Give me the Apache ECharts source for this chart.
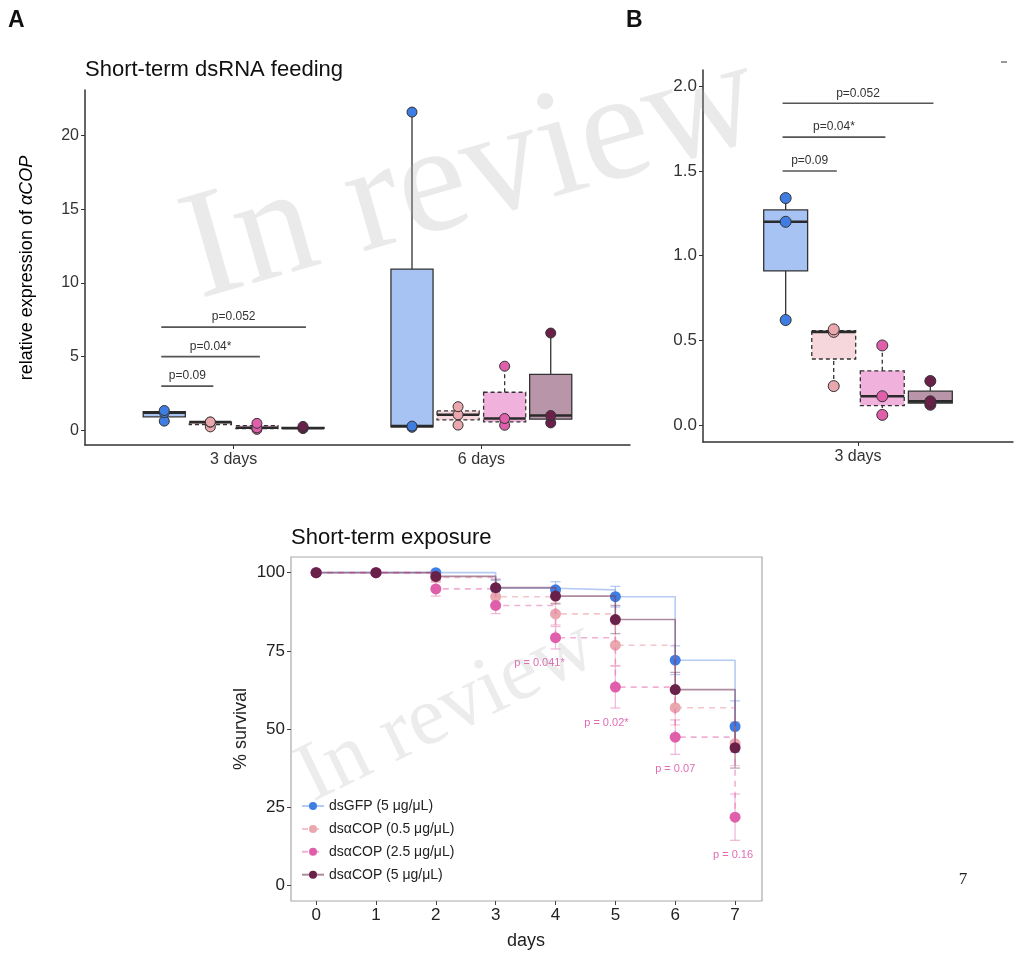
<!DOCTYPE html>
<html>
<head>
<meta charset="utf-8">
<script src="https://cdn.jsdelivr.net/npm/echarts@6/dist/echarts.min.js"></script>
<style>
html,body{margin:0;padding:0;background:#fff}
#chart{width:1015px;height:953px}
</style>
</head>
<body>
<div id="chart"></div>
<script>
// ---- data ----
const groupNames = ['dsGFP (5 μg/μL)', 'dsαCOP (0.5 μg/μL)', 'dsαCOP (2.5 μg/μL)', 'dsαCOP (5 μg/μL)'];
const expCategories = ['3 days', '6 days'];
const zoomCategories = ['3 days'];

// replicate values of relative αCOP expression, one list per time point
const gfpPoints   = [[0.62, 1.20, 1.34], [0.20, 0.28, 21.6]];
const cop05Points = [[0.23, 0.55, 0.565], [0.35, 1.05, 1.60]];
const cop25Points = [[0.06, 0.17, 0.47], [0.34, 0.80, 4.35]];
const cop5Points  = [[0.12, 0.14, 0.26], [0.50, 1.00, 6.60]];

// box statistics per time point: [lower whisker, Q1, median, Q3, upper whisker]
const gfpBox   = [[0.62, 0.91, 1.20, 1.27, 1.34], [0.20, 0.24, 0.28, 10.94, 21.6]];
const cop05Box = [[0.23, 0.39, 0.55, 0.557, 0.565], [0.35, 0.70, 1.05, 1.32, 1.60]];
const cop25Box = [[0.06, 0.115, 0.17, 0.32, 0.47], [0.34, 0.57, 0.80, 2.58, 4.35]];
const cop5Box  = [[0.12, 0.13, 0.14, 0.20, 0.26], [0.50, 0.75, 1.00, 3.80, 6.60]];

// pairwise comparisons against dsGFP at 3 days
const sigLabels  = ['p=0.09', 'p=0.04*', 'p=0.052'];
const sigTargets = [1, 2, 3];
const sigLevelsA = [3, 5, 7];
const sigLevelsB = [1.5, 1.7, 1.9];

// survival (%) by day, with error half-widths
const days = [0, 1, 2, 3, 4, 5, 6, 7];
const survGFP   = [100, 100, 100, 95.0, 94.5, 92.3, 72.0, 50.8];
const survCop05 = [100, 100, 98.5, 92.3, 86.8, 76.8, 56.8, 45.3];
const survCop25 = [100, 100, 94.8, 89.5, 79.2, 63.4, 47.4, 21.8];
const survCop5  = [100, 100, 98.8, 95.2, 92.5, 85.0, 62.6, 44.0];
const errGFP   = [0, 0, 0, 2.5, 2.6, 3.3, 4.6, 8.2];
const errCop05 = [0, 0, 1.5, 2.5, 3.5, 6.5, 5.5, 7.0];
const errCop25 = [0, 0, 2.3, 2.6, 3.6, 6.7, 5.5, 7.4];
const errCop5  = [0, 0, 1.2, 2.7, 2.5, 4.5, 5.5, 6.5];

const survPLabels = ['p = 0.041*', 'p = 0.02*', 'p = 0.07', 'p = 0.16'];
const survPDays   = [4, 5, 6, 7];

// ---- styling ----
const FONT = "'Liberation Sans', Arial, sans-serif";
const POINT_COLORS = ['#3f7de3', '#eaa7ae', '#e05fab', '#6a2149'];
const FILL_COLORS  = ['#a6c3f4', '#f6d7dc', '#f0b2dc', '#b995a9'];
const SURV_LINE    = ['rgba(120,160,235,0.55)', 'rgba(235,160,170,0.6)', 'rgba(230,110,180,0.55)', 'rgba(120,60,95,0.6)'];
const SURV_ERR     = ['rgba(120,160,235,0.55)', 'rgba(235,165,175,0.55)', 'rgba(230,120,185,0.5)', 'rgba(120,60,95,0.45)'];
const DASHED = [false, true, true, false];
const DODGE = [-0.28, -0.094, 0.094, 0.28];
const BOX_W = 0.17;
const P_LABEL_SHIFT = [-16, -9, 0, -2];

const allPoints = [gfpPoints, cop05Points, cop25Points, cop5Points];
const allBoxes = [gfpBox, cop05Box, cop25Box, cop5Box];
const allSurv = [survGFP, survCop05, survCop25, survCop5];
const allErr = [errGFP, errCop05, errCop25, errCop5];

function boxSeries(gi, axis, boxes) {
  return {
    type: 'custom', xAxisIndex: axis, yAxisIndex: axis, z: 2, silent: true,
    data: boxes.map((b, ci) => [ci + 1 + DODGE[gi]].concat(b)),
    encode: { x: 0, y: [1, 2, 3, 4, 5] },
    renderItem(params, api) {
      const x = api.value(0);
      const v = [1, 2, 3, 4, 5].map(i => api.value(i));
      const p = v.map(val => api.coord([x, val]));
      const cx = p[0][0];
      const w = api.size([BOX_W, 0])[0];
      const dash = DASHED[gi] ? [4, 3] : null;
      const stroke = '#333';
      return {
        type: 'group',
        children: [
          { type: 'line', shape: { x1: cx, y1: p[0][1], x2: cx, y2: p[1][1] }, style: { stroke, lineWidth: 1.3, lineDash: dash } },
          { type: 'line', shape: { x1: cx, y1: p[3][1], x2: cx, y2: p[4][1] }, style: { stroke, lineWidth: 1.3, lineDash: dash } },
          { type: 'rect', shape: { x: cx - w / 2, y: p[3][1], width: w, height: Math.max(p[1][1] - p[3][1], 1) },
            style: { fill: FILL_COLORS[gi], stroke, lineWidth: 1.3, lineDash: dash } },
          { type: 'line', shape: { x1: cx - w / 2, y1: p[2][1], x2: cx + w / 2, y2: p[2][1] }, style: { stroke: '#2a2a2a', lineWidth: 2.6 } }
        ]
      };
    }
  };
}

function pointSeries(gi, axis, points, size) {
  const data = [];
  points.forEach((list, ci) => list.forEach(val => data.push([ci + 1 + DODGE[gi], val])));
  return {
    type: 'scatter', xAxisIndex: axis, yAxisIndex: axis, z: 3, silent: true,
    symbolSize: size, data,
    itemStyle: { color: POINT_COLORS[gi], borderColor: '#333', borderWidth: 1, opacity: 1 }
  };
}

function sigSeries(axis, levels) {
  return {
    type: 'custom', xAxisIndex: axis, yAxisIndex: axis, z: 4, silent: true,
    data: levels.map((lv, i) => [1 + DODGE[0] - 0.012, 1 + DODGE[sigTargets[i]] + 0.012, lv]),
    encode: { x: [0, 1], y: 2 },
    renderItem(params, api) {
      const a = api.coord([api.value(0), api.value(2)]);
      const b = api.coord([api.value(1), api.value(2)]);
      return {
        type: 'group',
        children: [
          { type: 'line', shape: { x1: a[0], y1: a[1], x2: b[0], y2: b[1] }, style: { stroke: '#555', lineWidth: 1.6 } },
          { type: 'text', style: { text: sigLabels[params.dataIndex], x: (a[0] + b[0]) / 2, y: a[1] - 4,
            align: 'center', verticalAlign: 'bottom', textAlign: 'center', textVerticalAlign: 'bottom',
            font: '12px ' + FONT, fill: '#333' } }
        ]
      };
    }
  };
}

function errSeries(gi) {
  const data = [];
  days.forEach((d, i) => {
    if (allErr[gi][i] > 0) data.push([d, allSurv[gi][i] - allErr[gi][i], allSurv[gi][i] + allErr[gi][i]]);
  });
  return {
    type: 'custom', xAxisIndex: 2, yAxisIndex: 2, z: 2, silent: true, data,
    encode: { x: 0, y: [1, 2] },
    renderItem(params, api) {
      const lo = api.coord([api.value(0), api.value(1)]);
      const hi = api.coord([api.value(0), api.value(2)]);
      const st = { stroke: SURV_ERR[gi], lineWidth: 1.3 };
      return {
        type: 'group',
        children: [
          { type: 'line', shape: { x1: lo[0], y1: lo[1], x2: hi[0], y2: hi[1] }, style: st },
          { type: 'line', shape: { x1: lo[0] - 5, y1: lo[1], x2: lo[0] + 5, y2: lo[1] }, style: st },
          { type: 'line', shape: { x1: hi[0] - 5, y1: hi[1], x2: hi[0] + 5, y2: hi[1] }, style: st }
        ]
      };
    }
  };
}

function survSeries(gi) {
  return {
    name: groupNames[gi], type: 'line', xAxisIndex: 2, yAxisIndex: 2, z: 3 + gi * 0.1, silent: true,
    step: 'end', symbol: 'circle', symbolSize: 11, showSymbol: true,
    data: days.map((d, i) => [d, allSurv[gi][i]]),
    lineStyle: { color: SURV_LINE[gi], width: 1.6, type: DASHED[gi] ? [6, 5] : 'solid' },
    itemStyle: { color: POINT_COLORS[gi], opacity: 1 }
  };
}

const pLabelSeries = {
  type: 'custom', xAxisIndex: 2, yAxisIndex: 2, z: 5, silent: true,
  data: survPDays.map(d => { const i = days.indexOf(d); return [d, survCop25[i] - errCop25[i]]; }),
  encode: { x: 0, y: 1 },
  renderItem(params, api) {
    const p = api.coord([api.value(0), api.value(1)]);
    return { type: 'text', style: { text: survPLabels[params.dataIndex], x: p[0] + P_LABEL_SHIFT[params.dataIndex], y: p[1] + 9,
      align: 'center', verticalAlign: 'top', textAlign: 'center', textVerticalAlign: 'top',
      font: '11px ' + FONT, fill: '#e06cb4' } };
  }
};

const axisLineStyle = { color: '#333', width: 1.5 };
function catXAxis(grid, max, cats) {
  const vals = cats.map((c, i) => i + 1);
  return {
    type: 'value', gridIndex: grid, min: 0.4, max,
    axisLine: { show: true, onZero: false, lineStyle: axisLineStyle },
    axisTick: { show: true, customValues: vals, length: 4, lineStyle: { color: '#333' } },
    axisLabel: { customValues: vals, formatter: v => cats[Math.round(v) - 1], fontSize: 16, color: '#333', margin: 7, fontFamily: FONT },
    splitLine: { show: false }
  };
}

const option = {
  animation: false,
  backgroundColor: '#fff',
  grid: [
    { left: 85, top: 90, width: 545, height: 355 },
    { left: 703, top: 70, width: 310, height: 372 },
    { left: 291, top: 557, width: 471, height: 344, show: true, borderColor: '#aaa', borderWidth: 1.2 }
  ],
  xAxis: [
    catXAxis(0, 2.6, expCategories),
    catXAxis(1, 1.6, zoomCategories),
    {
      type: 'value', gridIndex: 2, min: -0.42, max: 7.45,
      axisLine: { show: false, onZero: false },
      axisTick: { show: true, customValues: days, length: 4, lineStyle: { color: '#444' } },
      axisLabel: { customValues: days, fontSize: 17, color: '#222', margin: 6, fontFamily: FONT },
      splitLine: { show: false }
    }
  ],
  yAxis: [
    {
      type: 'value', gridIndex: 0, min: -1, max: 23.1,
      axisLine: { show: true, onZero: false, lineStyle: axisLineStyle },
      axisTick: { show: true, customValues: [0, 5, 10, 15, 20], length: 4, lineStyle: { color: '#333' } },
      axisLabel: { customValues: [0, 5, 10, 15, 20], fontSize: 16, color: '#333', margin: 6, fontFamily: FONT },
      splitLine: { show: false }
    },
    {
      type: 'value', gridIndex: 1, min: -0.1, max: 2.096,
      axisLine: { show: true, onZero: false, lineStyle: axisLineStyle },
      axisTick: { show: true, customValues: [0, 0.5, 1, 1.5, 2], length: 4, lineStyle: { color: '#333' } },
      axisLabel: { customValues: [0, 0.5, 1, 1.5, 2], formatter: v => v.toFixed(1), fontSize: 17, color: '#333', margin: 6, fontFamily: FONT },
      splitLine: { show: false }
    },
    {
      type: 'value', gridIndex: 2, min: -5, max: 105,
      axisLine: { show: false, onZero: false },
      axisTick: { show: true, customValues: [0, 25, 50, 75, 100], length: 4, lineStyle: { color: '#444' } },
      axisLabel: { customValues: [0, 25, 50, 75, 100], fontSize: 17, color: '#222', margin: 6, fontFamily: FONT },
      splitLine: { show: false }
    }
  ],
  legend: {
    data: groupNames, orient: 'vertical', left: 296, top: 794,
    itemWidth: 22, itemHeight: 10, itemGap: 8.9, selectedMode: false,
    textStyle: { fontSize: 14, color: '#222', fontFamily: FONT }
  },
  series: [].concat(
    [0, 1, 2, 3].map(gi => boxSeries(gi, 0, allBoxes[gi])),
    [0, 1, 2, 3].map(gi => pointSeries(gi, 0, allPoints[gi], 10)),
    [sigSeries(0, sigLevelsA)],
    [0, 1, 2, 3].map(gi => boxSeries(gi, 1, [allBoxes[gi][0]])),
    [0, 1, 2, 3].map(gi => pointSeries(gi, 1, [allPoints[gi][0]], 11)),
    [sigSeries(1, sigLevelsB)],
    [0, 1, 2, 3].map(gi => errSeries(gi)),
    [0, 1, 2, 3].map(gi => survSeries(gi)),
    [pLabelSeries]
  ),
  graphic: [
    { type: 'text', left: 8, top: 9, style: { text: 'A', font: 'bold 23px ' + FONT, fill: '#111' } },
    { type: 'text', left: 626, top: 9, style: { text: 'B', font: 'bold 23px ' + FONT, fill: '#111' } },
    { type: 'text', left: 85, top: 59, style: { text: 'Short-term dsRNA feeding', font: '22px ' + FONT, fill: '#111' } },
    { type: 'text', left: 291, top: 527, style: { text: 'Short-term exposure', font: '22px ' + FONT, fill: '#111' } },
    { type: 'text', x: 27, y: 268, rotation: Math.PI / 2,
      style: { text: '{a|relative expression of }{b|αCOP}', align: 'center', verticalAlign: 'middle', textAlign: 'center', textVerticalAlign: 'middle',
        rich: { a: { fontSize: 18, fontFamily: FONT, color: '#222' }, b: { fontSize: 18, fontFamily: FONT, fontStyle: 'italic', color: '#222' } } } },
    { type: 'text', x: 241, y: 729, rotation: Math.PI / 2,
      style: { text: '% survival', align: 'center', verticalAlign: 'middle', textAlign: 'center', textVerticalAlign: 'middle', font: '18px ' + FONT, fill: '#222' } },
    { type: 'text', x: 526, y: 941,
      style: { text: 'days', align: 'center', verticalAlign: 'middle', textAlign: 'center', textVerticalAlign: 'middle', font: '18px ' + FONT, fill: '#222' } },
    { type: 'text', x: 963, y: 880,
      style: { text: '7', align: 'center', verticalAlign: 'middle', textAlign: 'center', textVerticalAlign: 'middle', font: "17px 'Liberation Serif', serif", fill: '#222' } },
    { type: 'rect', shape: { x: 1001, y: 61, width: 6, height: 2 }, style: { fill: '#999' } },
    // "In review" stamps
    { type: 'text', x: 472, y: 178, rotation: 16 * Math.PI / 180, z: 100, silent: true,
      style: { text: 'In review', align: 'center', verticalAlign: 'middle', textAlign: 'center', textVerticalAlign: 'middle',
        font: "155px 'Liberation Serif', serif", fill: 'rgba(170,170,170,0.25)' } },
    { type: 'text', x: 447, y: 712, rotation: 26 * Math.PI / 180, z: 100, silent: true,
      style: { text: 'In review', align: 'center', verticalAlign: 'middle', textAlign: 'center', textVerticalAlign: 'middle',
        font: "84px 'Liberation Serif', serif", fill: 'rgba(170,170,170,0.22)' } }
  ]
};

const chart = echarts.init(document.getElementById('chart'), null, { renderer: 'canvas' });
chart.setOption(option);
</script>
</body>
</html>
